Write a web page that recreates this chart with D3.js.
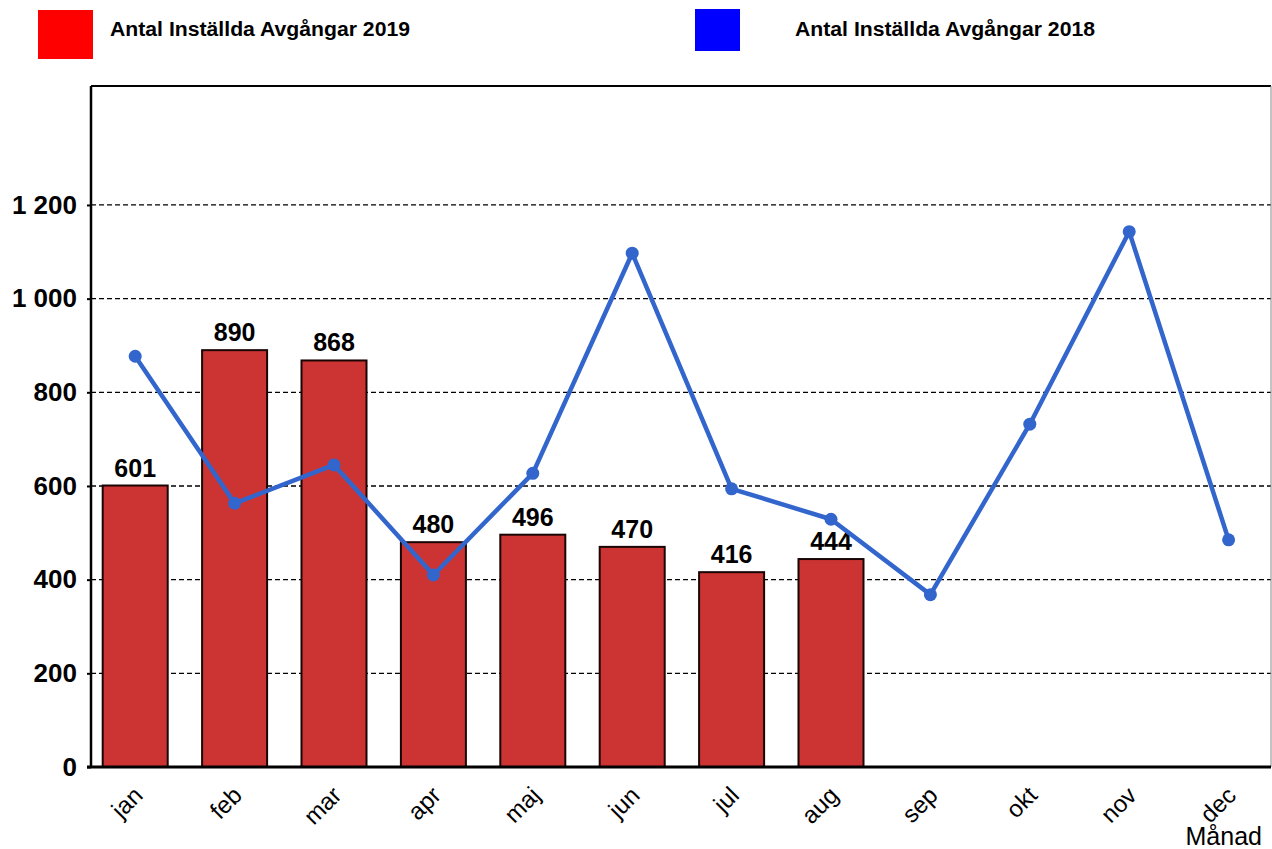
<!DOCTYPE html>
<html>
<head>
<meta charset="utf-8">
<script src="https://cdn.jsdelivr.net/npm/d3@7"></script>
<style>
	body { margin: 0; background: #fff; }
	svg { display: block; font-family: Arial, "Liberation Sans", sans-serif; }
	.grid line { stroke: #000; stroke-width: 1.3; stroke-dasharray: 5,3; }
</style>
</head>
<body>
<div id="chart"></div>
<script>
// data
const months = ['jan', 'feb', 'mar', 'apr', 'maj', 'jun', 'jul', 'aug', 'sep', 'okt', 'nov', 'dec'];
const values2019 = [601, 890, 868, 480, 496, 470, 416, 444];
const values2018 = [877, 563, 645, 410, 627, 1097, 594, 529, 368, 732, 1143, 485];
const yTicks = [0, 200, 400, 600, 800, 1000, 1200];
const legendLabels = ['Antal Inställda Avgångar 2019', 'Antal Inställda Avgångar 2018'];
const axisTitle = 'Månad';

const WIDTH = 1272;
const HEIGHT = 849;

// frame of the plot area
const frameLeft = 91;
const frameRight = 1271;
const frameTop = 86;
const frameBottom = 767;

const RED = '#cc3333';
const BLUE = '#3366cc';

const $svg = d3.select('#chart').append('svg')
	.attr('width', WIDTH)
	.attr('height', HEIGHT);

// scales
const scaleX = d3.scaleBand()
	.domain(months)
	.range([85.5, 1278.3])
	.paddingInner(0.346)
	.paddingOuter(0.173);

const scaleY = d3.scaleLinear()
	.domain([0, 1454])
	.range([frameBottom, frameTop]);

const cx = m => scaleX(m) + scaleX.bandwidth() / 2;
const fmt = v => d3.format(',')(v).replace(/,/g, ' ');

// grid lines
$svg.append('g')
	.attr('class', 'grid')
	.selectAll('line')
	.data(yTicks.filter(d => d > 0))
	.join('line')
	.attr('x1', frameLeft)
	.attr('x2', frameRight)
	.attr('y1', d => scaleY(d))
	.attr('y2', d => scaleY(d));

// frame: top + left black, right thin grey
$svg.append('line')
	.attr('x1', frameLeft).attr('x2', frameRight)
	.attr('y1', frameTop).attr('y2', frameTop)
	.attr('stroke', '#000').attr('stroke-width', 2);
$svg.append('line')
	.attr('x1', frameRight).attr('x2', frameRight)
	.attr('y1', frameTop).attr('y2', frameBottom)
	.attr('stroke', '#888').attr('stroke-width', 1);

// y axis
const axisY = d3.axisLeft(scaleY)
	.tickValues(yTicks)
	.tickSize(4)
	.tickPadding(10)
	.tickFormat(fmt);

const $axisY = $svg.append('g')
	.attr('transform', `translate(${frameLeft}, 0)`)
	.call(axisY);
$axisY.select('.domain')
	.attr('d', `M0,${frameTop}V${frameBottom}`)
	.attr('stroke', '#000').attr('stroke-width', 2.5);
$axisY.selectAll('.tick line').attr('stroke', '#000').attr('stroke-width', 2);
$axisY.selectAll('.tick text')
	.attr('font-size', 26)
	.attr('font-weight', 'bold')
	.attr('fill', '#000')
	.attr('font-family', 'Arial, "Liberation Sans", sans-serif');

// bars
const $bars = $svg.append('g').attr('class', 'g-bars');
$bars.selectAll('rect')
	.data(values2019)
	.join('rect')
	.attr('x', (d, i) => scaleX(months[i]))
	.attr('width', scaleX.bandwidth())
	.attr('y', d => scaleY(d))
	.attr('height', d => frameBottom - scaleY(d))
	.attr('fill', RED)
	.attr('stroke', '#1a0505')
	.attr('stroke-width', 2);

// x axis line
$svg.append('line')
	.attr('x1', frameLeft - 4).attr('x2', frameRight)
	.attr('y1', frameBottom).attr('y2', frameBottom)
	.attr('stroke', '#000').attr('stroke-width', 3);

// bar value labels
$bars.selectAll('text')
	.data(values2019)
	.join('text')
	.attr('x', (d, i) => cx(months[i]))
	.attr('y', d => scaleY(d) - 9)
	.attr('text-anchor', 'middle')
	.attr('font-size', 25)
	.attr('font-weight', 'bold')
	.text(d => d);

// 2018 line
const line = d3.line()
	.x((d, i) => cx(months[i]))
	.y(d => scaleY(d));

$svg.append('path')
	.datum(values2018)
	.attr('d', line)
	.attr('fill', 'none')
	.attr('stroke', BLUE)
	.attr('stroke-width', 4.5)
	.attr('stroke-linejoin', 'round');

$svg.append('g')
	.selectAll('circle')
	.data(values2018)
	.join('circle')
	.attr('cx', (d, i) => cx(months[i]))
	.attr('cy', d => scaleY(d))
	.attr('r', 6.5)
	.attr('fill', BLUE);

// month labels
$svg.append('g')
	.selectAll('text')
	.data(months)
	.join('text')
	.attr('transform', d => `translate(${cx(d) - 3}, ${frameBottom + 18}) rotate(-45)`)
	.attr('text-anchor', 'end')
	.attr('dy', '0.7em')
	.attr('font-size', 24)
	.text(d => d);

$svg.append('text')
	.attr('x', 1262)
	.attr('y', 845)
	.attr('text-anchor', 'end')
	.attr('font-size', 25)
	.text(axisTitle);

// legend
const legendItems = [
	{ label: legendLabels[0], color: '#ff0000', rect: [38, 10, 55, 49], tx: 110 },
	{ label: legendLabels[1], color: '#0000ff', rect: [695, 9, 45, 42], tx: 795 }
];
const $legend = $svg.append('g').attr('class', 'legend');
legendItems.forEach(d => {
	$legend.append('rect')
		.attr('x', d.rect[0]).attr('y', d.rect[1])
		.attr('width', d.rect[2]).attr('height', d.rect[3])
		.attr('fill', d.color);
	$legend.append('text')
		.attr('x', d.tx)
		.attr('y', 36)
		.attr('font-size', 20)
		.attr('font-weight', 'bold')
		.attr('textLength', 300)
		.attr('lengthAdjust', 'spacingAndGlyphs')
		.text(d.label);
});
</script>
</body>
</html>
